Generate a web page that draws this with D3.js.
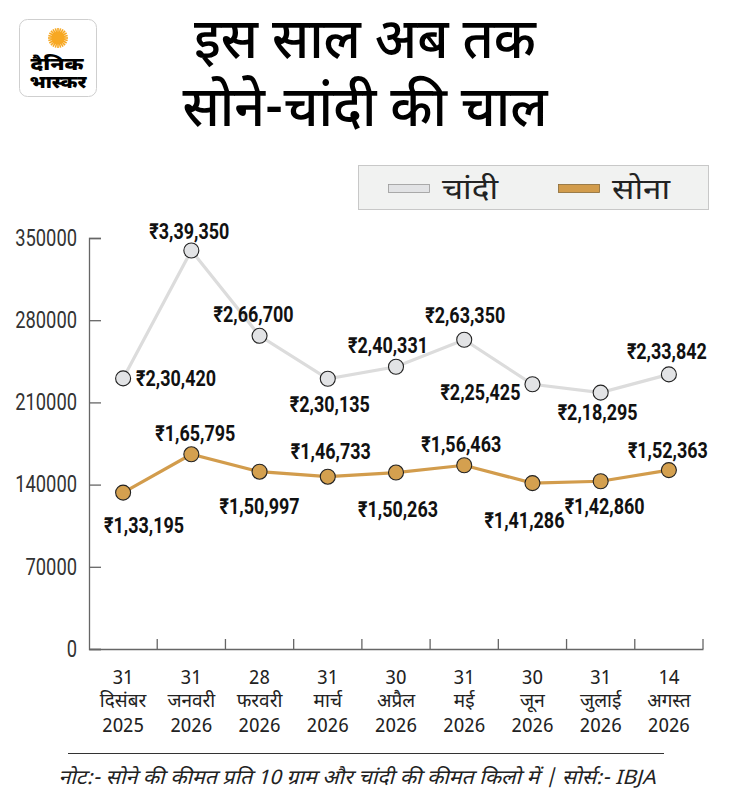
<!DOCTYPE html>
<html>
<head>
<meta charset="utf-8">
<script src="https://cdn.jsdelivr.net/npm/d3@7"></script>
<style>
  body { margin: 0; background: #fff; }
  svg { display: block; }
</style>
</head>
<body>
<div id="chart"></div>
<script>
// DATA
const days   = ["31", "31", "28", "31", "30", "31", "30", "31", "14"];
const months = ["दिसंबर", "जनवरी", "फरवरी", "मार्च", "अप्रैल", "मई", "जून", "जुलाई", "अगस्त"];
const years  = ["2025", "2026", "2026", "2026", "2026", "2026", "2026", "2026", "2026"];
const silver = [230420, 339350, 266700, 230135, 240331, 263350, 225425, 218295, 233842];
const gold   = [133195, 165795, 150997, 146733, 150263, 156463, 141286, 142860, 152363];
const yTicks = [0, 70000, 140000, 210000, 280000, 350000];

// label nudges relative to each point [dx, dy, anchor]
const silverNudge = [[13,0,"start"],[-2,-19,"middle"],[-6,-22,"middle"],[2,25,"middle"],[-8,-22,"middle"],
                     [1,-25,"middle"],[-12,8,"end"],[-3,19,"middle"],[-2,-23,"middle"]];
const goldNudge   = [[21,32,"middle"],[4,-21,"middle"],[0,34,"middle"],[3,-26,"middle"],[2,37,"middle"],
                     [-3,-21,"middle"],[-8,37,"middle"],[4,25,"middle"],[-1,-20,"middle"]];

//CONSTANTS
const W = 730, H = 807;
const margin = {top: 238, right: 27, bottom: 158, left: 89};
const deva = "'Noto Sans Devanagari', 'Noto Sans', sans-serif";
const numFont = "Roboto, 'Noto Sans', sans-serif";
const silverLine = "#dcdcdc", silverFill = "#e2e3e5";
const goldLine = "#d29c4c", goldFill = "#d4a04f";

function inr(v) {
  const s = String(v);
  const last3 = s.slice(-3);
  let rest = s.slice(0, -3);
  rest = rest.replace(/\B(?=(\d{2})+(?!\d))/g, ",");
  return "₹" + (rest ? rest + "," : "") + last3;
}

const keys = days.map((d, i) => i);

let svg = d3.select("#chart")
  .append("svg")
  .attr("width", W)
  .attr("height", H);

//LOGO
const logo = svg.append("g");
logo.append("rect")
  .attr("x", 19.5).attr("y", 19.5).attr("width", 77).attr("height", 77)
  .attr("rx", 8).attr("fill", "#fff").attr("stroke", "#cfcfcf");
const sun = logo.append("g").attr("transform", "translate(58,38)");
sun.selectAll("line")
  .data(d3.range(24))
  .join("line")
  .attr("x1", 0).attr("y1", 0)
  .attr("x2", d => 10 * Math.cos(d / 24 * 2 * Math.PI))
  .attr("y2", d => 10 * Math.sin(d / 24 * 2 * Math.PI))
  .attr("stroke", "#f7a823").attr("stroke-width", 1.6);
sun.append("circle").attr("r", 6.5).attr("fill", "#f7a823");
const logoText = logo.append("text")
  .attr("text-anchor", "middle")
  .attr("font-family", deva).attr("font-weight", 900).attr("font-size", 17);
logoText.append("tspan")
  .attr("x", 57).attr("y", 70)
  .attr("textLength", 53).attr("lengthAdjust", "spacingAndGlyphs")
  .text("दैनिक");
logoText.append("tspan")
  .attr("x", 58).attr("y", 88)
  .attr("textLength", 57).attr("lengthAdjust", "spacingAndGlyphs")
  .text("भास्कर");

//TITLE
const title = svg.append("text")
  .attr("text-anchor", "middle")
  .attr("font-family", deva).attr("font-weight", 500).attr("font-size", 56);
title.append("tspan")
  .attr("x", 365).attr("y", 58)
  .attr("textLength", 342).attr("lengthAdjust", "spacingAndGlyphs")
  .text("इस साल अब तक");
title.append("tspan")
  .attr("x", 365).attr("y", 126)
  .attr("textLength", 365).attr("lengthAdjust", "spacingAndGlyphs")
  .text("सोने-चांदी की चाल");

//LEGEND
const leg = svg.append("g");
leg.append("rect")
  .attr("x", 358.5).attr("y", 165.5).attr("width", 350).attr("height", 44)
  .attr("fill", "#f1f2f1").attr("stroke", "#c8c8c8");
const legItems = [
  {name: "चांदी", fill: silverFill, stroke: "#9a9a9a", x: 388, w: 56},
  {name: "सोना", fill: goldLine, stroke: "#8a6a35", x: 558, w: 58}
];
legItems.forEach(d => {
  leg.append("rect")
    .attr("x", d.x + 0.5).attr("y", 184.5).attr("width", 41).attr("height", 8)
    .attr("fill", d.fill).attr("stroke", d.stroke).attr("stroke-width", 0.8);
  leg.append("text")
    .attr("x", d.x + 54).attr("y", 199)
    .attr("font-family", deva).attr("font-size", 29).attr("fill", "#222")
    .attr("textLength", d.w).attr("lengthAdjust", "spacingAndGlyphs")
    .text(d.name);
});

//SCALES
const x = d3.scaleBand()
  .domain(keys)
  .range([margin.left, W - margin.right]);

const y = d3.scaleLinear()
  .domain([0, 350000])
  .range([H - margin.bottom, margin.top]);

//Y AXIS
const yAxis = svg.append("g")
  .attr("transform", `translate(${margin.left},0)`)
  .call(d3.axisLeft(y).tickValues(yTicks).tickSize(-12).tickPadding(12).tickFormat(d => d));
yAxis.select(".domain").attr("stroke", "#666").attr("stroke-width", 1.3);
yAxis.selectAll(".tick line").attr("stroke", "#666").attr("stroke-width", 1.3);
yAxis.selectAll(".tick text")
  .attr("font-family", numFont).attr("font-size", 23).attr("fill", "#333")
  .attr("textLength", d => String(d).length * 10.3)
  .attr("lengthAdjust", "spacingAndGlyphs");

//X AXIS
const xAxis = svg.append("g")
  .attr("transform", `translate(0,${H - margin.bottom})`)
  .call(d3.axisBottom(x).tickSize(0).tickFormat(""));
xAxis.select(".domain").attr("stroke", "#666").attr("stroke-width", 1.3);
xAxis.selectAll(".bound")
  .data(keys)
  .join("line")
  .attr("class", "bound")
  .attr("x1", d => x(d) + x.bandwidth())
  .attr("x2", d => x(d) + x.bandwidth())
  .attr("y1", 0).attr("y2", -10)
  .attr("stroke", "#666").attr("stroke-width", 1.3);

const xl = svg.append("g")
  .selectAll("text")
  .data(keys)
  .join("text")
  .attr("x", d => x(d) + x.bandwidth() / 2)
  .attr("text-anchor", "middle")
  .attr("font-family", deva).attr("font-size", 19).attr("fill", "#222");
xl.append("tspan").attr("x", d => x(d) + x.bandwidth() / 2).attr("y", 684).text(d => days[d]);
xl.append("tspan").attr("x", d => x(d) + x.bandwidth() / 2).attr("y", 707).text(d => months[d]);
xl.append("tspan").attr("x", d => x(d) + x.bandwidth() / 2).attr("y", 732).text(d => years[d]);

//LINES
function drawSeries(vals, lineColor, fillColor, nudge) {
  const line = d3.line()
    .x((d, i) => x(i) + x.bandwidth() / 2)
    .y(d => y(d));
  svg.append("path")
    .datum(vals)
    .attr("d", line)
    .attr("fill", "none")
    .attr("stroke", lineColor)
    .attr("stroke-width", 3.2);
  svg.append("g")
    .selectAll("circle")
    .data(vals)
    .join("circle")
    .attr("cx", (d, i) => x(i) + x.bandwidth() / 2)
    .attr("cy", d => y(d))
    .attr("r", 7.5)
    .attr("fill", fillColor)
    .attr("stroke", "#222")
    .attr("stroke-width", 1.1);
  svg.append("g")
    .selectAll("text")
    .data(vals)
    .join("text")
    .attr("x", (d, i) => x(i) + x.bandwidth() / 2 + nudge[i][0])
    .attr("y", (d, i) => y(d) + nudge[i][1])
    .attr("dy", "0.36em")
    .attr("text-anchor", (d, i) => nudge[i][2])
    .attr("font-family", numFont).attr("font-weight", "bold").attr("font-size", 22)
    .attr("textLength", 80).attr("lengthAdjust", "spacingAndGlyphs")
    .attr("fill", "#111")
    .text(d => inr(d));
}
drawSeries(silver, silverLine, silverFill, silverNudge);
drawSeries(gold, goldLine, goldFill, goldNudge);

//FOOTER
svg.append("line")
  .attr("x1", 68).attr("x2", 664).attr("y1", 753.5).attr("y2", 753.5)
  .attr("stroke", "#333").attr("stroke-width", 1);
svg.append("text")
  .attr("x", 357).attr("y", 784)
  .attr("text-anchor", "middle")
  .attr("font-family", deva).attr("font-style", "italic").attr("font-size", 20).attr("fill", "#222")
  .attr("textLength", 597).attr("lengthAdjust", "spacingAndGlyphs")
  .text("नोट:- सोने की कीमत प्रति 10 ग्राम और चांदी की कीमत किलो में | सोर्स:- IBJA");
</script>
</body>
</html>
